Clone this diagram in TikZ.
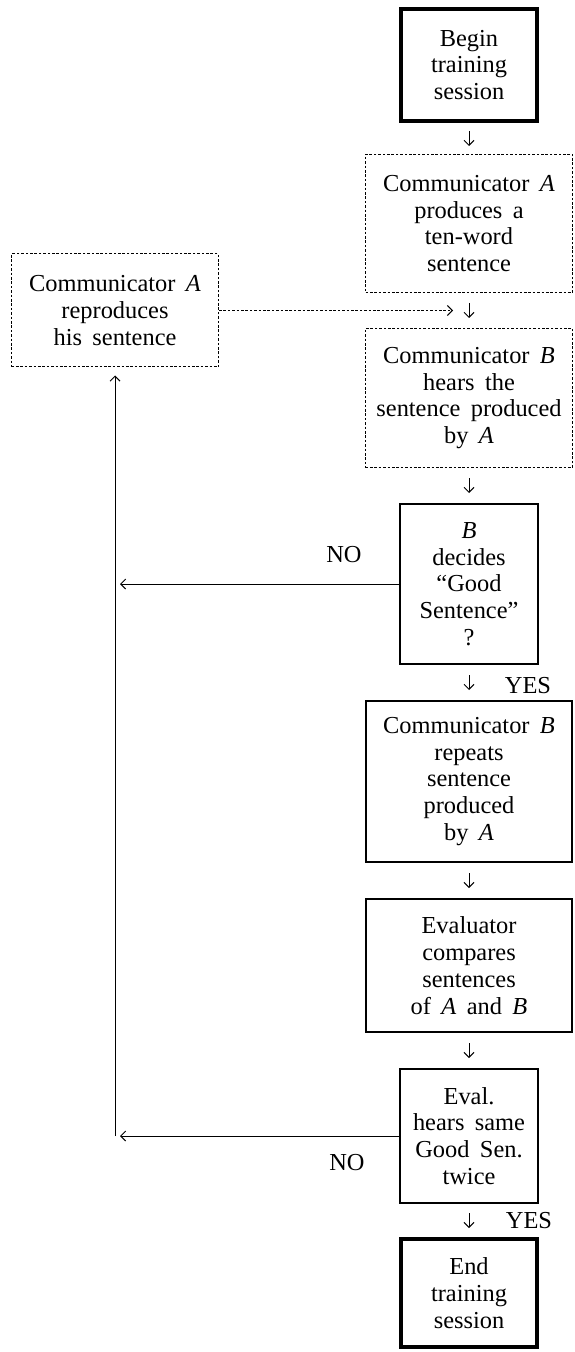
\documentclass[tikz,border=0pt]{standalone}
\usepackage{fontspec}
\setmainfont{Liberation Serif}[WordSpace=1.7]
\usetikzlibrary{arrows.meta,positioning}

\begin{document}
\begin{tikzpicture}[
  node distance=17.5pt,
  box/.style={draw,line width=1pt,align=center,minimum width=103pt,inner sep=2pt,font=\fontsize{12.2}{13.4}\selectfont},
  narrow/.style={box,minimum width=69pt},
  heavy/.style={box,line width=2pt,minimum width=68pt},
  dbox/.style={box,line width=0.5pt,minimum width=103.5pt,dash pattern=on 1.3pt off 0.9pt},
  arrow/.style={-{Straight Barb[length=2.5pt,width=5pt]},line width=0.5pt},
  flow/.style={arrow,shorten <=5pt,shorten >=5pt},
  lbl/.style={inner sep=0pt,font=\fontsize{12.2}{13.4}\selectfont}
]
\useasboundingbox (0,0) rectangle (287pt,-676pt);
\node[heavy,minimum height=56pt] (begin) at (234.5pt,-32.5pt) {Begin\\training\\session};
\node[dbox,minimum height=69pt,below=15.5pt of begin] (produce) {Communicator \textit{A}\\produces a\\ten-word\\sentence};
\node[dbox,minimum height=69.5pt,below=of produce] (hears) {Communicator \textit{B}\\hears the\\sentence produced\\by \textit{A}};
\node[narrow,minimum height=80pt,below=of hears] (decide) {\textit{B}\\decides\\“Good\\Sentence”\\?};
\node[box,minimum height=80.5pt,below=of decide] (repeats) {Communicator \textit{B}\\repeats\\sentence\\produced\\by \textit{A}};
\node[box,minimum height=66.5pt,below=of repeats] (compare) {Evaluator\\compares\\sentences\\of \textit{A} and \textit{B}};
\node[narrow,minimum height=67pt,below=of compare] (twice) {Eval.\\hears same\\Good Sen.\\twice};
\node[heavy,minimum height=54pt,below=16.5pt of twice] (finish) {End\\training\\session};
\path (produce.south) -- (hears.north) coordinate[midway] (mid);
\coordinate (leftcol) at (57.5pt,0);
\node[dbox,minimum height=56.5pt] (reproduce) at (mid -| leftcol) {Communicator \textit{A}\\reproduces\\his sentence};
\coordinate (merge) at ([xshift=-8pt]mid);
\coordinate (loop) at (reproduce.south |- twice.west);
\coordinate (loopup) at (decide.west -| loop);
\node[lbl,above left=10.5pt and 18.5pt of decide.west] (no1) {NO};
\node[lbl,below left=9pt and 17pt of twice.west] (no2) {NO};
\node[lbl,below=6pt of decide.south east,xshift=-5.5pt] (yes1) {YES};
\node[lbl,below=4pt of twice.south east,xshift=-5pt] (yes2) {YES};
\draw[flow,shorten <=4pt,shorten >=4pt] (begin) -- (produce);
\draw[flow] (produce) -- (hears);
\draw[flow] (hears) -- (decide);
\draw[flow] (decide) -- (repeats);
\draw[flow] (repeats) -- (compare);
\draw[flow] (compare) -- (twice);
\draw[flow,shorten <=4.5pt,shorten >=4.5pt] (twice) -- (finish);
\draw[arrow,dash pattern=on 1.3pt off 0.9pt] (reproduce) -- (merge);
\draw[arrow,shorten >=2.5pt] (decide.west) -- (loopup);
\draw[arrow,shorten >=2.5pt] (twice.west) -- (loop);
\draw[arrow,shorten >=4pt] (loop) -- (reproduce.south);
\end{tikzpicture}
\end{document}
